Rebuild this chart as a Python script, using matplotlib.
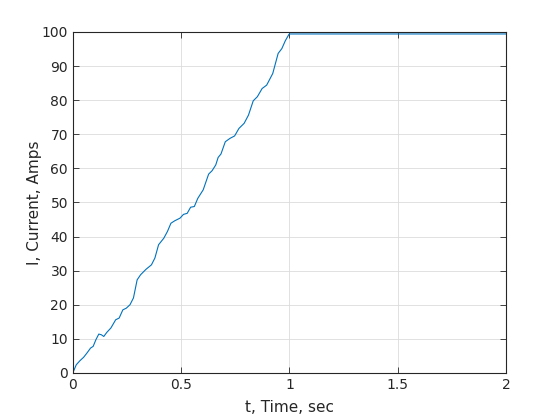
import matplotlib
matplotlib.use("Agg")
import matplotlib.pyplot as plt

# current vs time
t_sec = [0.0, 0.016, 0.033, 0.05, 0.066, 0.082, 0.094, 0.107, 0.12, 0.132,
         0.143, 0.157, 0.176, 0.198, 0.214, 0.231, 0.247, 0.264, 0.28, 0.297,
         0.313, 0.338, 0.363, 0.379, 0.396, 0.42, 0.437, 0.453, 0.47, 0.495,
         0.511, 0.528, 0.544, 0.561, 0.577, 0.602, 0.627, 0.643, 0.66, 0.671,
         0.684, 0.704, 0.726, 0.747, 0.767, 0.791, 0.811, 0.833, 0.852, 0.874,
         0.895, 0.923, 0.948, 0.965, 0.981, 0.998, 1.0, 2.0]
i_amps = [0.0, 2.4, 3.6, 4.6, 5.9, 7.3, 7.8, 9.8, 11.4, 11.2,
          10.7, 11.9, 13.2, 15.6, 16.1, 18.5, 19.0, 20.0, 22.0, 27.3,
          28.8, 30.4, 31.7, 33.7, 37.6, 39.5, 41.5, 43.9, 44.6, 45.4,
          46.5, 46.8, 48.6, 48.8, 51.2, 53.7, 58.3, 59.3, 61.0, 63.2,
          64.2, 67.8, 68.8, 69.5, 71.7, 73.2, 75.6, 79.8, 81.0, 83.4,
          84.4, 87.8, 93.7, 95.1, 97.4, 99.3, 99.4, 99.4]

xticks = [0, 0.5, 1, 1.5, 2]
xticklabels = ["0", "0.5", "1", "1.5", "2"]
yticks = list(range(0, 101, 10))

plt.rcParams['font.family'] = ['DejaVu Sans']
txt = '#262626'

fig = plt.figure(figsize=(5.6, 4.2), dpi=100)
ax = fig.add_axes([0.13, 0.112, 0.7736, 0.812])
ax.plot(t_sec, i_amps, color='#0072BD', linewidth=0.8)

ax.set_xlim(0, 2)
ax.set_ylim(0, 100)
ax.set_xticks(xticks)
ax.set_xticklabels(xticklabels)
ax.set_yticks(yticks)
ax.grid(True, color='#dcdcdc', linewidth=0.6)
ax.set_axisbelow(True)
ax.tick_params(direction='in', top=True, right=True, labelsize=10,
               colors=txt, length=4, width=0.6)
for s in ax.spines.values():
    s.set_color(txt)
    s.set_linewidth(0.8)

ax.set_xlabel('t, Time, sec', fontsize=11, color=txt, labelpad=6)
ax.set_ylabel('I, Current, Amps', fontsize=11, color=txt, labelpad=0)

fig.savefig('out.png', dpi=100)
